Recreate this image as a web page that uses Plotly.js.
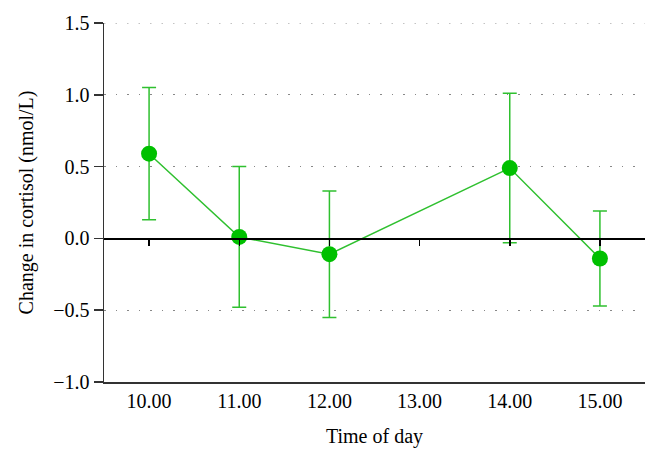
<!DOCTYPE html>
<html>
<head>
<meta charset="utf-8">
<script src="https://cdn.plot.ly/plotly-3.0.1.min.js"></script>
<style>html,body{margin:0;padding:0;background:#fff;}</style>
</head>
<body>
<div id="chart" style="width:658px;height:460px;"></div>
<script>
const hours = [10, 11, 12, 14, 15];
const meanChange = [0.59, 0.01, -0.11, 0.49, -0.14];
const errUpper = [1.05, 0.50, 0.33, 1.01, 0.19];
const errLower = [0.13, -0.48, -0.55, -0.03, -0.47];
const tickHours = [10, 11, 12, 13, 14, 15];
const tickLabels = ['10.00', '11.00', '12.00', '13.00', '14.00', '15.00'];
const yTicks = [-1.0, -0.5, 0.0, 0.5, 1.0, 1.5];

const plus = errUpper.map((u, i) => u - meanChange[i]);
const minus = errLower.map((l, i) => meanChange[i] - l);

const lineGreen = '#2fc02f';
const markerGreen = '#00c000';
const font = 'Liberation Serif, Times New Roman, serif';
const yTop = yTicks[yTicks.length - 1];

const zeroAxisTrace = {
  x: tickHours, y: tickHours.map(() => 0), xaxis: 'x2', yaxis: 'y',
  type: 'scatter', mode: 'none', hoverinfo: 'skip', showlegend: false
};

const trace = {
  x: hours, y: meanChange, type: 'scatter', mode: 'lines+markers',
  line: {color: lineGreen, width: 1.5},
  marker: {color: markerGreen, size: 16},
  error_y: {type: 'data', symmetric: false, array: plus, arrayminus: minus,
            color: lineGreen, thickness: 1.5, width: 7},
  showlegend: false, cliponaxis: false
};

const layout = {
  width: 658, height: 460,
  margin: {l: 104, r: 13, t: 23, b: 78},
  paper_bgcolor: '#fff', plot_bgcolor: '#fff',
  font: {family: font, size: 20, color: '#000'},
  xaxis: {
    range: [9.5, 15.5], tickvals: tickHours, ticktext: tickLabels,
    showline: true, linecolor: '#333', linewidth: 1.5, ticks: '',
    tickfont: {family: font, size: 20},
    showgrid: false, zeroline: false,
    title: {text: 'Time of day', font: {family: font, size: 20}, standoff: 18}
  },
  xaxis2: {
    overlaying: 'x', anchor: 'free', position: 0.4, side: 'bottom',
    range: [9.5, 15.5], tickvals: tickHours, showticklabels: false,
    showline: true, linecolor: '#000', linewidth: 1.5,
    ticks: 'outside', ticklen: 6, tickwidth: 1.5, tickcolor: '#000',
    showgrid: false, zeroline: false
  },
  yaxis: {
    range: [yTicks[0], yTop], tickvals: yTicks, tickformat: '.1f',
    showline: true, linecolor: '#333', linewidth: 1.5,
    ticks: 'outside', ticklen: 9, tickwidth: 1.5, tickcolor: '#333',
    tickfont: {family: font, size: 20},
    showgrid: true, gridcolor: '#888', gridwidth: 1, griddash: '1.5px,10px',
    zeroline: false,
    title: {text: 'Change in cortisol (nmol/L)', font: {family: font, size: 20}, standoff: 14}
  },
  shapes: [{
    type: 'line', xref: 'paper', yref: 'y', x0: 0, x1: 1, y0: yTop, y1: yTop,
    line: {color: '#888', width: 1, dash: '1.5px,10px'}, layer: 'below'
  }]
};

Plotly.newPlot('chart', [zeroAxisTrace, trace], layout, {displayModeBar: false, staticPlot: true});
</script>
</body>
</html>
